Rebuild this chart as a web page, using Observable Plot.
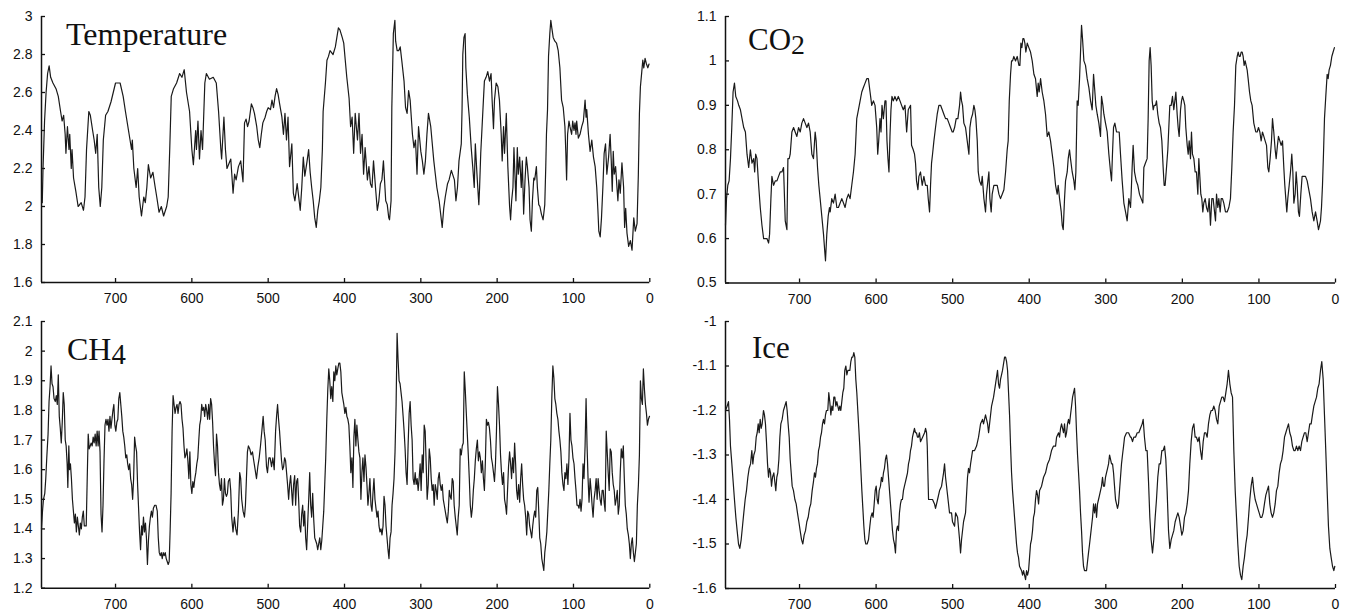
<!DOCTYPE html>
<html><head><meta charset="utf-8">
<script src="https://cdn.jsdelivr.net/npm/d3@7"></script>
<script src="https://cdn.jsdelivr.net/npm/@observablehq/plot@0.6"></script>
<style>
body{margin:0;background:#fff;}
#wrap{position:relative;width:1347px;height:614px;overflow:hidden;}
.panel{position:absolute;}
.title{position:absolute;font-family:"Liberation Serif","Times New Roman",serif;font-size:32px;line-height:32px;color:#111;white-space:nowrap;z-index:5;}
.title .sub{position:relative;top:4px;font-size:0.9em;}
</style></head><body><div id="wrap"></div>
<script>
// ---------- data (age in kyr BP, value) ----------
const xTicks = [700, 600, 500, 400, 300, 200, 100, 0];
const tempTicks = [1.6, 1.8, 2, 2.2, 2.4, 2.6, 2.8, 3];
const co2Ticks = [0.5, 0.6, 0.7, 0.8, 0.9, 1, 1.1];
const ch4Ticks = [1.2, 1.3, 1.4, 1.5, 1.6, 1.7, 1.8, 1.9, 2, 2.1];
const iceTicks = [-1.6, -1.5, -1.4, -1.3, -1.2, -1.1, -1];

const tempSeries = [[796,2.02],[795,2.2],[793,2.45],[791,2.6],[789,2.7],[787,2.74],[785,2.68],[782,2.65],[778,2.62],[775,2.58],[772,2.5],[770,2.45],[768,2.48],[766,2.38],[765,2.28],[763,2.42],[761,2.3],[760,2.38],[758,2.2],[757,2.3],[755,2.15],[752,2.08],[749,2.0],[745,2.02],[742,1.98],[740,2.05],[738,2.3],[735,2.5],[733,2.48],[730,2.4],[728,2.35],[726,2.28],[724,2.38],[722,2.1],[720,2.0],[718,2.1],[716,2.35],[713,2.48],[710,2.5],[706,2.55],[703,2.6],[700,2.65],[694,2.65],[690,2.58],[687,2.5],[683,2.4],[679,2.3],[678,2.35],[676,2.2],[673,2.1],[671,2.2],[669,2.05],[666,1.95],[663,2.05],[661,2.02],[659,2.1],[657,2.22],[654,2.15],[651,2.18],[648,2.1],[646,2.05],[643,1.97],[640,2.0],[637,1.95],[633,2.0],[631,2.05],[629,2.3],[627,2.58],[624,2.62],[620,2.65],[616,2.7],[613,2.68],[610,2.72],[607,2.6],[603,2.5],[600,2.3],[598,2.22],[595,2.4],[594,2.3],[592,2.45],[590,2.25],[588,2.4],[586,2.3],[583,2.65],[581,2.7],[577,2.67],[572,2.68],[568,2.65],[565,2.5],[562,2.3],[561,2.25],[558,2.47],[556,2.3],[554,2.2],
[549,2.25],[546,2.07],[544,2.17],[542,2.14],[539,2.21],[536,2.24],[533,2.13],[531,2.44],[529,2.46],[527,2.42],[525,2.45],[522,2.54],[520,2.52],[518,2.49],[515,2.42],[513,2.35],[511,2.31],[509,2.38],[507,2.44],[504,2.47],[502,2.5],[500,2.52],[497,2.51],[495,2.56],[493,2.52],[491,2.58],[489,2.62],[487,2.59],[485,2.54],[482,2.47],[480,2.38],[478,2.49],[476,2.35],[474,2.47],[472,2.21],[469,2.33],[467,2.07],[465,2.03],[462,2.12],[460,2.05],[458,1.98],[456,2.1],[454,2.26],[452,2.16],[449,2.24],[447,2.3],[445,2.18],[443,2.1],[441,2.03],[439,1.94],[437,1.89],[435,1.98],[433,2.03],[431,2.1],[429,2.3],[428,2.5],[425,2.65],[423,2.77],[421,2.79],[419,2.82],[415,2.8],[412,2.84],[410,2.89],[408,2.94],[406,2.93],[403,2.89],[401,2.86],[399,2.77],[397,2.68],[394,2.57],[392,2.42],[390,2.47],[388,2.28],[386,2.49],[383,2.35],[381,2.49],[379,2.28],[377,2.38],[375,2.17],[373,2.31],[370,2.14],[368,2.21],[366,2.12],[364,2.1],[362,2.24],[359,2.08],[357,1.98],[355,2.03],[353,2.12],[351,2.14],[349,2.24],[346,2.03],[344,2.01],[342,1.94],[341,1.93],[339,2.03],[338,2.52],[336,2.91],[334,2.98],[333,2.87],[331,2.82],[329,2.82],[327,2.84],[325,2.77],[322,2.66],[320,2.52],[318,2.49],[316,2.61],[314,2.56],[311,2.38],[309,2.31],[307,2.35],[305,2.17],[303,2.42],[300,2.29],[298,2.24],[296,2.17],[294,2.24],[292,2.38],[290,2.49],[287,2.42],[285,2.33],[283,2.24],[281,2.17],[279,2.1],[276,2.03],[274,1.96],[272,1.89],[270,1.99],[268,2.05],[265,2.12],[263,2.14],
[260,2.19],[256,2.14],[254,2.03],[252,2.1],[250,2.24],[247,2.33],[246,2.51],[245,2.8],[243.5,2.89],[242,2.91],[241,2.73],[239,2.59],[236.5,2.47],[234,2.31],[232,2.21],[230,2.1],[228.6,2.33],[227,2.21],[226,2.14],[224,2.01],[223,2.1],[221.5,2.28],[220,2.4],[218,2.56],[216.7,2.66],[214.5,2.68],[212.3,2.71],[210,2.66],[208,2.7],[206.6,2.56],[204.8,2.41],[203.5,2.56],[201.3,2.65],[199,2.63],[197,2.56],[194.7,2.38],[193.4,2.24],[191.6,2.42],[190.3,2.28],[188,2.49],[186,2.21],[183.7,2.0],[182.4,1.93],[181,2.03],[179.3,2.1],[178,2.31],[176.7,2.17],[175.4,2.03],[173.6,2.31],[172.3,2.17],[170.5,2.26],[168.4,2.1],[167,2.24],[165.3,1.96],[163.5,2.14],[161.8,2.26],[160.4,2.21],[158.2,2.1],[156.9,1.93],[155.2,1.87],[153.8,2.03],[152,2.15],[150.8,2.14],[148.6,2.21],[147.3,2.1],[145.5,2.01],[144,2.0],[142,1.96],[139.8,1.93],[137.6,2.01],[136.3,2.21],[135.4,2.38],[134,2.51],[132.7,2.79],[131,2.91],[129.7,2.98],[128.4,2.94],[126.6,2.89],[124.4,2.87],[122.2,2.86],[120,2.82],[117.8,2.73],[115.6,2.56],[113.4,2.52],[111.2,2.42],[110,2.28],[109,2.14],[107.7,2.38],[105.9,2.45],[104.6,2.42],[102.4,2.38],[101,2.45],[99.3,2.4],[98,2.44],[96.7,2.38],[95.8,2.45],[93.6,2.36],[91.4,2.38],[89.2,2.42],[87,2.45],[84.8,2.56],[83.5,2.47],[82.6,2.51],[80.4,2.38],[78.2,2.29],[76,2.35],[73.8,2.26],[71.6,2.21],[69.5,2.1],[68,1.98],[66.8,1.87],[65,1.84],[63.3,1.94],[61.5,2.1],[59.8,2.28],[58,2.33],[56.3,2.17],[54,2.26],[52,2.38],[50.5,2.24],[49.2,2.08],[47.9,2.29],[46.6,2.17],[44.8,2.21],[43,2.1],[41.8,2.03],[40.4,2.14],[38.7,2.07],[36.5,2.23],[34.3,2.1],[33,1.89],[31.6,1.99],[29.9,1.86],[27.7,1.79],[25.5,1.82],[23.3,1.77],[21,1.94],[19,1.87],[16.7,1.91],[15,2.17],[13.6,2.49],[12.3,2.63],[10.5,2.71],[9.2,2.77],[7.9,2.73],[6.2,2.78],[4.4,2.75],[2.6,2.73],[1,2.75]];

const co2Series = [[796.7,0.63],[795.4,0.69],[793.7,0.72],[792,0.73],[790.2,0.78],[788.5,0.85],[786.8,0.93],[785,0.95],[783.3,0.92],[781,0.91],[779.4,0.9],[777.2,0.89],[775.1,0.87],[772.9,0.85],[770.7,0.84],[768.6,0.79],[766.4,0.76],[764.2,0.8],[762.1,0.77],[759.9,0.78],[758.6,0.75],[757.3,0.79],[755.6,0.78],[753.4,0.72],[751.3,0.67],[749.1,0.63],[746.9,0.6],[744.7,0.6],[742.6,0.6],[740.4,0.59],[739.1,0.61],[737.4,0.69],[736.1,0.74],[733.9,0.72],[731.7,0.73],[729.5,0.73],[727.4,0.74],[725.2,0.75],[723,0.75],[720.9,0.76],[718.7,0.64],[716.5,0.62],[715.2,0.78],[713.5,0.78],[712.2,0.79],[710,0.84],[707.8,0.85],[705.7,0.84],[703.5,0.83],[701.3,0.85],[699.1,0.84],[697,0.86],[694.8,0.87],[692.6,0.86],[690.4,0.85],[688.3,0.86],[686.1,0.84],[683.9,0.79],[681.8,0.78],[679.6,0.84],[678.3,0.82],[676.5,0.76],[674.8,0.72],[673.1,0.69],[670.9,0.65],[668.7,0.61],[667,0.57],[666.1,0.55],[664.4,0.61],[662.6,0.65],[660.9,0.67],[660,0.66],[657.9,0.69],[655.7,0.68],[653.5,0.7],[651.3,0.67],[649.2,0.67],[647,0.68],[644.8,0.69],[642.6,0.68],[640.5,0.67],[638.3,0.69],[636.1,0.7],[634,0.69],[631.8,0.72],[629.6,0.75],[627.4,0.79],[625.3,0.87],[623.1,0.89],[620.9,0.91],[618.7,0.93],[616.6,0.94],[614.4,0.95],[612.2,0.96],[610.1,0.96],[607.9,0.93],[605.7,0.9],[603.5,0.91],[601.4,0.9],[599.2,0.85],[597.9,0.79],[596.6,0.82],[594.9,0.87],[593.6,0.84],[592.3,0.9],[590.5,0.87],[588.4,0.91],[587.1,0.91],[585.8,0.82],[584.5,0.78],[583.2,0.75],[581.9,0.83],[580.6,0.89],[579.3,0.92],[577.5,0.91],[575.4,0.92],[573.2,0.91],[571,0.92],[568.8,0.91],[566.7,0.9],[564.5,0.89],[562.3,0.9],[560.1,0.84],[558,0.89],
[555,0.9],[553.7,0.81],[551.5,0.8],[549.8,0.79],[548.5,0.77],[547.2,0.73],[545.4,0.71],[544.1,0.74],[542,0.75],[539.8,0.72],[537.6,0.74],[535.4,0.72],[533.2,0.72],[531.9,0.69],[530.2,0.66],[528.9,0.72],[527.6,0.77],[526.3,0.79],[524.5,0.82],[522.4,0.85],[520.2,0.88],[518,0.9],[515.8,0.9],[513.6,0.89],[511.5,0.88],[509.3,0.87],[507.1,0.87],[504.9,0.86],[502.8,0.85],[500.6,0.84],[499.3,0.84],[497.5,0.85],[495.4,0.87],[493.2,0.87],[491,0.9],[489.7,0.93],[488.4,0.91],[487.1,0.9],[485.4,0.86],[483.2,0.85],[481,0.82],[478.8,0.79],[477.5,0.85],[475.8,0.87],[474,0.88],[472.3,0.9],[471,0.89],[469.7,0.87],[467.9,0.82],[466.6,0.75],[464.9,0.73],[462.7,0.72],[461.4,0.74],[459.2,0.69],[457.1,0.66],[455.8,0.7],[454,0.73],[452.7,0.75],[451.4,0.69],[449.7,0.66],[448.4,0.7],[446.2,0.72],[444,0.72],[441.8,0.72],[439.6,0.7],[437.5,0.69],[435.3,0.7],[433.1,0.71],[430.9,0.75],[428.8,0.8],[427.5,0.82],[426.1,0.91],[424.4,0.97],[423.1,1.0],[421.8,1.0],[420.1,1.01],[417.9,1.0],[415.7,1.01],[413.5,0.99],[412.2,0.99],[410.9,1.04],[409.6,1.03],[408.3,1.05],[407,1.05],[405.7,1.04],[404.4,1.02],[402.6,1.04],[400.5,1.03],[398.3,1.02],[396.1,1.0],[393.9,0.97],[391.8,0.96],[389.6,0.92],[388.3,0.95],[387,0.93],[385.2,0.96],[383.1,0.93],[380.9,0.91],[378.7,0.88],[376.5,0.83],[374.4,0.84],[372.2,0.82],[370,0.79],[367.8,0.76],[365.6,0.72],[363.5,0.7],[362.2,0.72],[360.4,0.69],[358.2,0.66],[356.9,0.63],[355.6,0.62],[353.9,0.69],[352.6,0.73],[350.4,0.75],[349.1,0.78],[347.4,0.8],[346.1,0.78],[343.9,0.75],[341.7,0.73],[340.4,0.71],[339.1,0.75],[337.4,0.91],[336.1,0.9],[334.3,0.96],[333,1.02],[331.7,1.08],[330.4,1.05],[328.6,1.0],[326.5,0.99],[324.3,0.96],[322.1,0.94],[319.9,0.91],[317.8,0.89],[316,0.97],[314.7,0.94],[313,0.9],[311.2,0.88],[309.1,0.86],[306.9,0.83],[305.6,0.92],[303.8,0.9],[302.5,0.88],[300.4,0.86],[298.2,0.84],[296,0.79],[293.8,0.75],[292.5,0.73],[291.3,0.79],[289.9,0.85],[288.2,0.86],[286,0.84],[284.2,0.84],[282.5,0.84],[280.8,0.79],[278.6,0.73],[276.4,0.68],[274.2,0.66],[272.1,0.64],[269.9,0.69],[267.7,0.67],
[266.9,0.7],[265.6,0.76],[264.3,0.81],[262.5,0.75],[260.3,0.73],[258.2,0.72],[256,0.7],[253.8,0.69],[251.6,0.68],[250.3,0.76],[248.2,0.77],[246,0.78],[244.7,0.87],[243.4,1.0],[242.1,1.03],[240.8,0.99],[239.4,0.91],[238.1,0.89],[236.8,0.9],[235.1,0.9],[233.8,0.91],[232.1,0.88],[230.3,0.86],[228.6,0.85],[226.8,0.82],[225.1,0.76],[223.8,0.72],[222.5,0.72],[220.7,0.76],[219,0.8],[217.7,0.85],[216.4,0.9],[214.6,0.9],[212.9,0.92],[211.2,0.89],[209.8,0.91],[208.5,0.93],[206.8,0.88],[205.5,0.85],[204.2,0.83],[202.4,0.89],[201.1,0.91],[199.8,0.92],[198.1,0.91],[196.8,0.9],[195.5,0.85],[193.7,0.81],[192.4,0.79],[191.1,0.82],[189.4,0.78],[188.1,0.84],[186.8,0.79],[185,0.78],[183.3,0.75],[181.6,0.75],[179.8,0.7],[178.5,0.78],[177.2,0.74],[175.9,0.7],[174.6,0.69],[173.3,0.66],[172,0.68],[170.2,0.69],[168.5,0.67],[166.7,0.66],[165,0.69],[163.3,0.63],[161.5,0.69],[159.8,0.69],[158,0.66],[156.7,0.64],[155.4,0.7],[153.7,0.67],[152.4,0.69],[150.6,0.66],[149.3,0.69],[147.6,0.69],[145.9,0.68],[143.7,0.66],[141.5,0.66],[139.3,0.67],[137.2,0.69],[135.4,0.76],[133.7,0.84],[131.9,0.9],[130.2,0.99],[128.4,1.01],[127.1,1.02],[125.8,1.01],[124.5,1.01],[123.2,1.02],[121.9,1.02],[120.6,1.01],[119.3,0.99],[118,1.0],[116.7,0.99],[115.4,0.98],[114.1,0.96],[112.3,0.93],[110.6,0.91],[108.9,0.9],[106.7,0.86],[105.4,0.85],[104.1,0.84],[102.3,0.84],[100.6,0.85],[98.8,0.84],[97.1,0.82],[95.4,0.84],[93.6,0.83],[91.9,0.82],[90.1,0.81],[88.4,0.76],[87.1,0.75],[85.4,0.78],[83.6,0.82],[82.3,0.87],[80.6,0.84],[78.8,0.8],[77.5,0.78],[75.8,0.81],[74.5,0.83],[72.7,0.82],[71,0.81],[69.2,0.82],[67.5,0.76],[66.2,0.72],[64.9,0.69],[63.6,0.66],[62.3,0.69],[60.5,0.72],[58.8,0.75],[57.1,0.79],[55.7,0.75],[54.4,0.68],[52.7,0.7],[51.4,0.75],[50.1,0.72],[48.4,0.66],[47.1,0.65],[45.3,0.7],[43.6,0.74],[41.4,0.74],[39.2,0.74],[37,0.73],[34.9,0.71],[32.7,0.69],[30.5,0.66],[28.3,0.64],[26.1,0.66],[24,0.64],[22.2,0.62],[20.9,0.63],[19.6,0.64],[18.3,0.67],[17,0.72],[15.7,0.79],[14.4,0.87],[12.7,0.92],[10.9,0.97],[9.6,0.96],[8.3,0.98],[6.6,0.99],[4.8,1.01],[3.1,1.02],[1.4,1.03]];

const ch4Series = [[797,1.4],[795.7,1.46],[794.4,1.5],[792.7,1.52],[791.4,1.57],[790.1,1.64],[788.4,1.72],[787.1,1.83],[785.8,1.88],[784.5,1.95],[783.2,1.89],[781.9,1.88],[780.6,1.84],[778.9,1.83],[777.6,1.85],[776.3,1.82],[775,1.92],[773.7,1.78],[772.4,1.74],[771.1,1.69],[769.8,1.76],[768.5,1.86],[767.2,1.82],[765.9,1.7],[764.7,1.68],[763.4,1.62],[762.5,1.54],[761.2,1.68],[760.3,1.6],[759.1,1.62],[757.8,1.57],[756.5,1.5],[755.2,1.46],[753.9,1.42],[752.6,1.45],[751.3,1.39],[750,1.44],[748.7,1.41],[747.4,1.38],[746.1,1.42],[744.8,1.4],[743.5,1.44],[742.2,1.46],[740.9,1.41],[739.7,1.41],[738.4,1.41],[736.6,1.63],[735.8,1.72],[734.5,1.67],[733.2,1.68],[731.9,1.69],[730.6,1.68],[729.3,1.71],[728,1.69],[726.7,1.72],[725.4,1.68],[724.1,1.73],[722.8,1.68],[721.6,1.73],[720.3,1.66],[719,1.45],[717.7,1.39],[716.4,1.48],[715.1,1.63],[713.8,1.75],[712.5,1.77],[711.2,1.75],[709.9,1.77],[708.6,1.73],[707.3,1.78],[706,1.74],[704.7,1.77],[703.4,1.8],[702.2,1.82],[700.9,1.75],[699.6,1.73],[698.3,1.76],[697,1.77],[695.7,1.84],[694.4,1.86],[693.1,1.82],[691.8,1.78],[690.5,1.73],[689.2,1.71],[687.9,1.68],[686.6,1.64],[685.3,1.65],[684.1,1.62],[682.8,1.6],[681.5,1.62],[680.2,1.57],[678.9,1.55],[677.6,1.5],[676.3,1.57],[675,1.71],[673.7,1.68],[672.4,1.66],[671.1,1.55],[669.8,1.47],[668.5,1.39],[667.2,1.33],[665.9,1.41],[664.7,1.38],[663.4,1.44],[662.1,1.39],[660.8,1.42],[659.5,1.37],[658.2,1.28],[656.9,1.36],[655.6,1.41],[654.3,1.44],[653,1.46],[651.7,1.44],[650.4,1.47],[648.7,1.48],[647,1.48],[645.3,1.46],[644,1.37],[642.7,1.32],[641.4,1.31],[640.1,1.32],[638.8,1.3],[637.5,1.32],[636.2,1.31],[634.9,1.32],[633.6,1.3],[632.3,1.29],[631,1.28],[629.7,1.29],[628.4,1.4],[627.2,1.52],[625.9,1.73],[624.6,1.85],[623.3,1.82],[622,1.79],[620.7,1.81],[619.4,1.82],[618.1,1.79],[616.8,1.82],[615.5,1.83],[614.2,1.82],[612.9,1.77],[611.6,1.74],[610.3,1.68],[609.1,1.64],[607.8,1.65],[606.5,1.67],[605.2,1.63],[603.9,1.57],[602.6,1.66],[601.3,1.55],[600,1.52],[598.7,1.56],[597.4,1.54],[596.1,1.57],[594.8,1.59],[593.5,1.62],[592.2,1.64],[590.9,1.7],[589.7,1.75],[588.4,1.77],[587.1,1.82],[585.8,1.8],[584.5,1.81],[583.2,1.78],[581.9,1.82],[580.6,1.8],[579.3,1.77],[578,1.82],[576.7,1.77],[575.4,1.84],[574.1,1.82],[572.8,1.76],[571.6,1.68],[570.3,1.62],[569,1.58],[567.7,1.72],[566.4,1.68],[565.1,1.59],[563.8,1.55],[562.5,1.53],[561.2,1.57],[559.9,1.48],[558.6,1.5],[557.3,1.57],[556,1.52],[554.7,1.51],[553.4,1.52],[552.2,1.56],
[550.4,1.57],[549.1,1.53],[547.8,1.44],[546.1,1.39],[544.3,1.44],[542.5,1.4],[540.8,1.38],[539,1.46],[537.3,1.59],[536,1.57],[534.7,1.5],[532.9,1.46],[531.1,1.44],[529.8,1.48],[528.5,1.57],[527.2,1.66],[525.9,1.68],[524.1,1.67],[522.4,1.65],[520.6,1.66],[518.9,1.63],[517.1,1.6],[515.3,1.57],[513.6,1.61],[511.8,1.64],[510.1,1.68],[508.3,1.73],[506.6,1.78],[505.3,1.73],[503.9,1.7],[502.2,1.61],[500.9,1.59],[499.1,1.64],[497.4,1.64],[495.6,1.61],[493.9,1.64],[492.1,1.6],[490.3,1.73],[489,1.78],[487.7,1.82],[486.4,1.77],[485.1,1.73],[483.8,1.68],[482.5,1.63],[481.1,1.6],[479.8,1.61],[478.5,1.64],[477.2,1.63],[475.9,1.59],[474.6,1.55],[473.2,1.5],[471.9,1.55],[470.6,1.58],[469.3,1.53],[468,1.48],[466.7,1.55],[465.3,1.58],[464,1.48],[462.7,1.56],[461.4,1.57],[460.1,1.5],[458.8,1.41],[457.4,1.39],[456.1,1.45],[454.8,1.48],[453.5,1.41],[452.2,1.46],[450.9,1.37],[449.6,1.33],[448.2,1.42],[446.9,1.5],[445.6,1.59],[444.3,1.48],[443,1.44],[441.7,1.52],[440.3,1.43],[439,1.37],[437.7,1.36],[436.4,1.35],[435.1,1.33],[433.8,1.35],[432.4,1.37],[431.1,1.33],[429.8,1.36],[428.5,1.41],[427.2,1.46],[425.9,1.55],[424.6,1.64],[423.2,1.77],[421.9,1.87],[420.6,1.94],[419.3,1.9],[418,1.84],[416.7,1.88],[415.3,1.83],[414,1.93],[412.7,1.9],[411.4,1.95],[410.1,1.92],[408.8,1.94],[407.4,1.96],[406.1,1.96],[404.8,1.93],[403.5,1.86],[402.2,1.84],[400.9,1.82],[399.5,1.79],[398.2,1.81],[396.9,1.78],[395.6,1.77],[394.3,1.75],[393,1.68],[391.7,1.59],[390.3,1.64],[389,1.54],[387.7,1.71],[386.4,1.77],[385.1,1.68],[383.8,1.75],[382.4,1.7],[381.1,1.66],[379.8,1.64],[378.5,1.5],[377.2,1.59],[375.9,1.64],[374.5,1.56],[373.2,1.65],[371.9,1.61],[370.6,1.55],[369.3,1.48],[368,1.52],[366.7,1.57],[365.3,1.48],[364,1.46],[362.7,1.52],[361.4,1.57],[360.1,1.5],[358.8,1.47],[357.4,1.44],[356.1,1.46],[354.8,1.41],[353.5,1.39],[352.2,1.4],[350.9,1.38],[349.5,1.41],[348.2,1.51],[346.9,1.48],[345.6,1.41],[344.3,1.37],[343,1.33],[341.7,1.3],[340.3,1.37],[339,1.39],[337.7,1.48],[336.4,1.52],[335.1,1.57],[333.8,1.66],[332.4,1.82],[331.1,2.06],[329.8,1.97],[328.5,1.9],[327.2,1.89],[325.9,1.86],[324.6,1.83],[323.2,1.78],[321.9,1.73],[320.6,1.67],[319.3,1.59],[318,1.55],[316.7,1.68],[315.3,1.79],[314,1.83],[312.7,1.75],[311.4,1.7],[310.1,1.57],[308.8,1.55],[307.4,1.59],[306.1,1.55],[304.8,1.57],[303.5,1.53],[302.2,1.57],[300.9,1.62],[299.6,1.53],[298.2,1.65],[296.9,1.59],[295.6,1.75],[294.3,1.73],[293,1.62],[291.7,1.5],[290.3,1.55],[289,1.67],[287.7,1.64],[286.4,1.57],[285.1,1.53],[283.8,1.55],[282.5,1.48],[281.1,1.55],[279.8,1.53],[278.5,1.5],[277.2,1.57],[275.9,1.59],[274.6,1.55],[273.2,1.53],[271.9,1.55],[270.6,1.5],[269.3,1.48],[268,1.46],[266.7,1.44],[265.3,1.42],[264,1.46],[262.7,1.53],
[261.5,1.51],[260.2,1.5],[258.9,1.57],[257.6,1.56],[256.3,1.48],[254.9,1.44],[253.6,1.41],[252.3,1.38],[251,1.44],[249.7,1.48],[248.4,1.67],[247,1.65],[245.7,1.68],[244.4,1.69],[243.1,1.93],[241.8,1.87],[240.4,1.79],[239.1,1.72],[237.8,1.65],[236.5,1.57],[235.2,1.48],[233.8,1.44],[232.5,1.47],[231.2,1.53],[229.9,1.57],[228.6,1.63],[227.3,1.67],[225.9,1.7],[224.6,1.63],[223.3,1.66],[222,1.64],[220.7,1.59],[219.3,1.63],[218,1.57],[216.7,1.53],[215.4,1.63],[214.1,1.77],[212.7,1.75],[211.4,1.76],[210.1,1.74],[208.8,1.7],[207.5,1.64],[206.2,1.62],[204.8,1.59],[203.5,1.56],[202.2,1.62],[200.9,1.73],[199.6,1.88],[198.2,1.82],[196.9,1.75],[195.6,1.65],[194.3,1.59],[193,1.55],[191.6,1.59],[190.3,1.5],[189,1.48],[187.7,1.45],[186.4,1.53],[185.1,1.61],[183.7,1.66],[182.4,1.62],[181.1,1.57],[179.8,1.64],[178.5,1.59],[177.1,1.69],[175.8,1.62],[174.5,1.53],[173.2,1.5],[171.9,1.55],[170.5,1.49],[169.2,1.57],[167.9,1.62],[166.6,1.55],[165.3,1.5],[164,1.48],[162.6,1.44],[161.3,1.38],[160,1.46],[158.7,1.45],[157.4,1.41],[156,1.39],[154.7,1.37],[153.4,1.41],[152.1,1.44],[150.8,1.46],[149.5,1.44],[148.1,1.53],[146.8,1.54],[145.5,1.46],[144.2,1.37],[142.9,1.35],[141.5,1.3],[140.2,1.28],[138.9,1.26],[137.6,1.32],[136.3,1.35],[134.9,1.39],[133.6,1.46],[132.3,1.53],[131,1.62],[129.7,1.7],[128.4,1.84],[127,1.95],[125.7,1.91],[124.4,1.84],[123.1,1.82],[121.8,1.79],[120.4,1.77],[119.1,1.73],[117.8,1.7],[116.5,1.66],[115.2,1.59],[113.8,1.55],[112.5,1.53],[111.2,1.59],[109.9,1.57],[108.6,1.62],[107.3,1.55],[105.9,1.64],[104.6,1.79],[103.3,1.7],[102,1.68],[100.7,1.64],[99.3,1.62],[98,1.57],[96.7,1.53],[95.4,1.48],[94.1,1.48],[92.7,1.47],[91.4,1.5],[90.1,1.46],[88.8,1.5],[87.5,1.62],[86.2,1.57],[84.8,1.68],[83.5,1.84],[82.2,1.68],[80.9,1.57],[79.6,1.49],[78.2,1.57],[76.9,1.53],[75.6,1.48],[74.3,1.44],[73,1.5],[71.6,1.53],[70.3,1.57],[69,1.5],[67.7,1.57],[66.4,1.53],[65.1,1.5],[63.7,1.48],[62.4,1.53],[61.1,1.53],[59.8,1.49],[58.5,1.46],[57.1,1.73],[55.8,1.66],[54.5,1.59],[53.2,1.53],[51.9,1.67],[50.5,1.66],[49.2,1.59],[47.9,1.55],[46.6,1.53],[45.3,1.48],[44,1.5],[42.6,1.53],[41.3,1.45],[40,1.48],[38.7,1.59],[37.4,1.67],[36,1.64],[34.7,1.68],[33.4,1.57],[32.1,1.48],[30.8,1.45],[29.5,1.4],[28.1,1.38],[26.8,1.35],[25.5,1.3],[24.2,1.35],[22.9,1.37],[21.5,1.32],[20.2,1.29],[18.9,1.32],[17.6,1.35],[16.3,1.48],[14.9,1.55],[13.6,1.65],[12.3,1.9],[11,1.84],[9.7,1.82],[8.4,1.94],[7,1.87],[5.7,1.82],[4.4,1.79],[3.1,1.75],[1.8,1.77],[0.4,1.78]];

const iceSeries = [[796.7,-1.2],[794.5,-1.19],[792.8,-1.18],[791.5,-1.22],[790.2,-1.28],[788.4,-1.32],[786.7,-1.36],[785,-1.4],[783.2,-1.44],[781.5,-1.47],[779.7,-1.5],[778,-1.51],[776.2,-1.49],[774.5,-1.46],[772.8,-1.43],[771,-1.4],[769.3,-1.38],[767.5,-1.35],[765.8,-1.33],[764,-1.32],[762.3,-1.29],[761,-1.32],[759.7,-1.3],[758,-1.29],[756.6,-1.26],[755.3,-1.25],[754,-1.23],[752.7,-1.25],[751.4,-1.22],[750.1,-1.24],[748.8,-1.23],[747.1,-1.2],[745.8,-1.21],[744.5,-1.23],[743.2,-1.27],[741.8,-1.32],[740.5,-1.35],[739.2,-1.33],[737.9,-1.34],[736.6,-1.37],[735.3,-1.35],[733.6,-1.34],[732.3,-1.36],[731,-1.38],[729.7,-1.35],[728.4,-1.34],[727,-1.31],[725.7,-1.26],[724.4,-1.23],[722.7,-1.22],[721,-1.2],[719.2,-1.19],[717.5,-1.18],[716.2,-1.2],[714.9,-1.23],[713.5,-1.26],[712.2,-1.31],[710.9,-1.34],[709.6,-1.37],[707.9,-1.38],[706.1,-1.4],[704.4,-1.41],[702.7,-1.43],[700.9,-1.45],[699.2,-1.47],[697.4,-1.49],[695.7,-1.5],[694,-1.48],[692.2,-1.47],[690.5,-1.45],[688.7,-1.44],[687,-1.42],[685.3,-1.41],[683.5,-1.38],[681.8,-1.36],[680.5,-1.34],[679.2,-1.35],[677.9,-1.33],[676.6,-1.32],[675.2,-1.29],[673.9,-1.28],[672.6,-1.26],[671.3,-1.25],[670,-1.23],[668.7,-1.22],[667.4,-1.23],[666.1,-1.21],[664.8,-1.2],[663.1,-1.2],[661.8,-1.16],[660.5,-1.18],[659.1,-1.21],[657.8,-1.19],[656.5,-1.2],[655.2,-1.17],[653.9,-1.17],[652.6,-1.19],[651.3,-1.18],[650,-1.19],[648.7,-1.2],[647.4,-1.19],[646.1,-1.2],[644.8,-1.18],[643.5,-1.16],[642.2,-1.15],[640.9,-1.11],[639.5,-1.1],[638.2,-1.12],[636.9,-1.11],[635.6,-1.11],[634.3,-1.11],[633,-1.09],[631.7,-1.08],[630.4,-1.08],[629.1,-1.07],[627.8,-1.08],[626.5,-1.13],[625.2,-1.16],[623.9,-1.2],[622.6,-1.24],[621.3,-1.28],[620,-1.33],[618.6,-1.38],[617.3,-1.42],[616,-1.46],[614.7,-1.49],[613.4,-1.5],[611.7,-1.5],[609.9,-1.49],[608.2,-1.46],[606.9,-1.44],[605.2,-1.43],[603.9,-1.44],[602.5,-1.41],[601.2,-1.38],[599.9,-1.37],[598.6,-1.4],[597.3,-1.41],[596,-1.38],[594.3,-1.37],[593,-1.35],[591.7,-1.36],[590.4,-1.34],[589.1,-1.33],[587.8,-1.31],[586.4,-1.3],[585.1,-1.32],[583.8,-1.35],[582.5,-1.38],[581.2,-1.41],[579.9,-1.44],[578.6,-1.47],[577.3,-1.49],[576,-1.5],[574.7,-1.52],[573.4,-1.47],[572.1,-1.46],[570.8,-1.47],[569.5,-1.43],[568.2,-1.41],[566.9,-1.4],[565.6,-1.4],[564.3,-1.38],[563,-1.37],[561.6,-1.36],[560.3,-1.35],[559,-1.34],[557.7,-1.32],[556.4,-1.31],[555.1,-1.29],[553.8,-1.28],[552.5,-1.26],[551.2,-1.25],[549.9,-1.24],[548.6,-1.25],[547.3,-1.25],[546,-1.26],[544.7,-1.26],[543.4,-1.25],
[542,-1.27],[539.3,-1.26],[536.7,-1.25],[535.4,-1.24],[534.1,-1.25],[533.2,-1.28],[532.4,-1.34],[531.5,-1.4],[528.9,-1.4],[526.3,-1.4],[523.7,-1.41],[522.4,-1.42],[519.7,-1.4],[517.1,-1.38],[514.5,-1.37],[511.9,-1.34],[510.6,-1.32],[509.3,-1.35],[506.7,-1.39],[504.1,-1.43],[501.5,-1.43],[500.2,-1.45],[497.5,-1.46],[496.2,-1.43],[493.6,-1.44],[491,-1.49],[489.7,-1.52],[488.4,-1.49],[485.8,-1.45],[483.2,-1.43],[481.9,-1.39],[480.6,-1.35],[479.3,-1.33],[478,-1.34],[476.6,-1.32],[474,-1.29],[471.4,-1.29],[468.8,-1.28],[466.2,-1.26],[463.6,-1.23],[461,-1.22],[459.7,-1.23],[457.1,-1.21],[454.4,-1.23],[453.1,-1.25],[451.8,-1.23],[449.2,-1.19],[446.6,-1.17],[444,-1.14],[441.4,-1.11],[440.1,-1.14],[438.8,-1.15],[437.5,-1.13],[434.9,-1.11],[432.2,-1.08],[430.9,-1.08],[429.6,-1.09],[428.3,-1.11],[427,-1.16],[425.7,-1.21],[424.4,-1.28],[423.1,-1.34],[421.8,-1.38],[420.5,-1.41],[419.2,-1.44],[417.9,-1.47],[416.6,-1.5],[415.3,-1.52],[414,-1.53],[412.7,-1.55],[410,-1.56],[408.7,-1.57],[407.4,-1.56],[406.1,-1.57],[404.8,-1.58],[403.5,-1.56],[402.2,-1.57],[400.9,-1.56],[399.6,-1.53],[398.3,-1.5],[397,-1.49],[395.7,-1.47],[394.4,-1.44],[393.1,-1.43],[391.8,-1.4],[390.5,-1.38],[389.1,-1.39],[387.8,-1.41],[386.5,-1.38],[383.9,-1.37],[381.3,-1.35],[378.7,-1.34],[376.1,-1.32],[373.5,-1.31],[370.9,-1.29],[368.3,-1.28],[365.6,-1.28],[364.3,-1.26],[361.7,-1.25],[360.4,-1.26],[359.1,-1.24],[357.8,-1.23],[355.2,-1.25],[353.9,-1.23],[352.6,-1.26],[351.3,-1.25],[350,-1.23],[348.7,-1.22],[347.4,-1.23],[346.1,-1.21],[344.7,-1.19],[343.4,-1.17],[342.1,-1.16],[340.8,-1.15],[339.5,-1.19],[338.2,-1.25],[336.9,-1.3],[335.6,-1.34],[334.3,-1.38],[333,-1.43],[331.7,-1.47],[330.4,-1.52],[329.1,-1.55],[327.8,-1.56],[326.5,-1.56],[325.2,-1.56],[323.9,-1.54],[322.6,-1.52],[321.2,-1.5],[319.9,-1.48],[318.6,-1.46],[317.3,-1.44],[316,-1.41],[314.7,-1.43],[313.4,-1.41],[312.1,-1.44],[310.8,-1.41],[309.5,-1.4],[308.2,-1.39],[306.9,-1.38],[305.6,-1.37],[304.3,-1.35],[303,-1.37],[301.7,-1.37],[300.4,-1.35],[299.1,-1.34],[297.7,-1.33],[296.4,-1.32],[295.1,-1.3],[293.8,-1.31],[292.5,-1.32],[291.2,-1.32],[289.9,-1.34],[288.6,-1.37],[287.3,-1.4],[286,-1.41],[284.7,-1.42],[283.4,-1.41],[282.1,-1.38],[280.8,-1.35],[279.5,-1.32],[278.2,-1.3],[276.8,-1.28],[275.5,-1.26],[272.9,-1.25],[270.3,-1.25],[267.7,-1.26],
[266.9,-1.26],[265.1,-1.27],[263.4,-1.26],[261.2,-1.26],[259,-1.25],[256.9,-1.25],[254.7,-1.24],[252.5,-1.23],[251.2,-1.22],[249.5,-1.26],[247.7,-1.29],[246,-1.29],[244.2,-1.36],[242.5,-1.44],[240.8,-1.49],[239,-1.52],[237.3,-1.49],[235.5,-1.44],[233.8,-1.4],[232.1,-1.35],[230.3,-1.32],[228.6,-1.32],[226.8,-1.29],[225.1,-1.29],[223.3,-1.28],[221.6,-1.31],[219.9,-1.38],[218.1,-1.47],[216.4,-1.51],[214.6,-1.49],[212.9,-1.48],[211.2,-1.47],[209.4,-1.45],[207.7,-1.44],[205.9,-1.43],[204.2,-1.44],[202.4,-1.46],[200.7,-1.48],[199,-1.47],[197.2,-1.44],[195.5,-1.43],[193.7,-1.41],[192,-1.38],[190.3,-1.32],[188.5,-1.27],[186.8,-1.24],[185,-1.23],[183.3,-1.26],[181.6,-1.26],[179.8,-1.27],[178.1,-1.26],[176.3,-1.29],[174.6,-1.31],[172.8,-1.27],[171.1,-1.25],[169.4,-1.25],[167.6,-1.26],[165.9,-1.23],[164.1,-1.21],[162.4,-1.2],[160.7,-1.2],[158.9,-1.19],[157.2,-1.2],[155.4,-1.22],[153.7,-1.23],[151.9,-1.19],[150.2,-1.18],[148.5,-1.17],[146.7,-1.17],[145,-1.18],[143.2,-1.16],[141.5,-1.14],[139.8,-1.11],[138,-1.14],[136.3,-1.16],[134.5,-1.17],[132.8,-1.29],[131,-1.38],[129.3,-1.44],[127.6,-1.5],[125.8,-1.55],[124.1,-1.57],[122.4,-1.58],[120.6,-1.55],[118.9,-1.53],[117.1,-1.5],[115.4,-1.48],[113.6,-1.44],[111.9,-1.4],[110.2,-1.37],[108.4,-1.35],[106.7,-1.38],[104.9,-1.4],[103.2,-1.41],[101.5,-1.42],[99.7,-1.43],[98,-1.44],[96.2,-1.44],[94.5,-1.43],[92.8,-1.41],[91,-1.39],[89.3,-1.38],[87.5,-1.37],[85.8,-1.41],[84.1,-1.43],[82.3,-1.44],[80.6,-1.43],[78.8,-1.41],[77.1,-1.38],[75.3,-1.37],[73.6,-1.34],[71.9,-1.32],[70.1,-1.31],[68.4,-1.29],[66.6,-1.26],[64.9,-1.25],[63.2,-1.24],[61.4,-1.23],[59.7,-1.25],[57.9,-1.26],[56.2,-1.28],[54.4,-1.29],[52.7,-1.29],[51,-1.28],[49.2,-1.29],[47.5,-1.28],[45.7,-1.29],[44,-1.27],[42.3,-1.26],[40.5,-1.25],[38.8,-1.25],[37,-1.27],[35.3,-1.25],[33.6,-1.23],[31.8,-1.23],[30.1,-1.21],[28.3,-1.19],[26.6,-1.18],[24.8,-1.17],[23.1,-1.15],[21.4,-1.14],[19.6,-1.11],[17.9,-1.09],[16.1,-1.13],[14.4,-1.21],[12.7,-1.29],[10.9,-1.38],[9.2,-1.46],[7.4,-1.51],[5.7,-1.53],[3.9,-1.55],[2.2,-1.56],[0.9,-1.55]];

// ---------- drawing ----------
const wrap = document.getElementById("wrap");
const fmt = d => String(+(+d).toFixed(2));

function panel(series, yTicks, cfg) {
  const rows = series.map(([age, v]) => ({age, v}));
  const yMin = yTicks[0], yMax = yTicks[yTicks.length - 1];
  const chart = Plot.plot({
    width: cfg.w, height: cfg.h,
    marginLeft: cfg.ml, marginRight: cfg.mr, marginTop: cfg.mt, marginBottom: cfg.mb,
    style: {background: "transparent", fontFamily: "'Liberation Sans', Arial, sans-serif", fontSize: "14px", color: "#111", overflow: "visible"},
    x: {domain: [cfg.xStart, 0], label: null},
    y: {domain: [yMin, yMax], label: null},
    marks: [
      Plot.axisX(xTicks, {label: null, tickSize: -4, tickPadding: 15, tickFormat: fmt, stroke: "#111", strokeWidth: 1.3}),
      Plot.axisY(yTicks, {label: null, tickSize: -4, tickPadding: 13, tickFormat: fmt, stroke: "#111", strokeWidth: 1.3}),
      Plot.ruleX([cfg.xStart], {stroke: "#111", strokeWidth: 1.5}),
      Plot.ruleY([yMin], {stroke: "#111", strokeWidth: 1.5}),
      Plot.line(rows, {x: "age", y: "v", stroke: "#1a1a1a", strokeWidth: 1.2})
    ]
  });
  const div = document.createElement("div");
  div.className = "panel";
  div.style.left = cfg.left + "px";
  div.style.top = cfg.top + "px";
  div.appendChild(chart);
  wrap.appendChild(div);
}

panel(tempSeries, tempTicks, {left: 0, top: 0, w: 670, h: 305, ml: 41, mr: 20.7, mt: 16, mb: 23, xStart: 797});
panel(co2Series, co2Ticks, {left: 680, top: 0, w: 667, h: 305, ml: 45, mr: 12, mt: 16, mb: 22.5, xStart: 796.7});
panel(ch4Series, ch4Ticks, {left: 0, top: 305, w: 670, h: 309, ml: 41, mr: 20.7, mt: 16, mb: 26.3, xStart: 797});
panel(iceSeries, iceTicks, {left: 680, top: 305, w: 667, h: 309, ml: 45, mr: 12, mt: 16, mb: 26, xStart: 796.7});

const titles = [
  {html: "Temperature", left: 66, top: 18, size: 32},
  {html: "CO<span class=\"sub\">2</span>", left: 748, top: 24, size: 31},
  {html: "CH<span class=\"sub\">4</span>", left: 67, top: 333, size: 32},
  {html: "Ice", left: 752, top: 332, size: 31}
];
for (const t of titles) {
  const d = document.createElement("div");
  d.className = "title";
  d.style.left = t.left + "px";
  d.style.top = t.top + "px";
  d.style.fontSize = t.size + "px";
  d.style.lineHeight = t.size + "px";
  d.innerHTML = t.html;
  wrap.appendChild(d);
}
</script></body></html>
